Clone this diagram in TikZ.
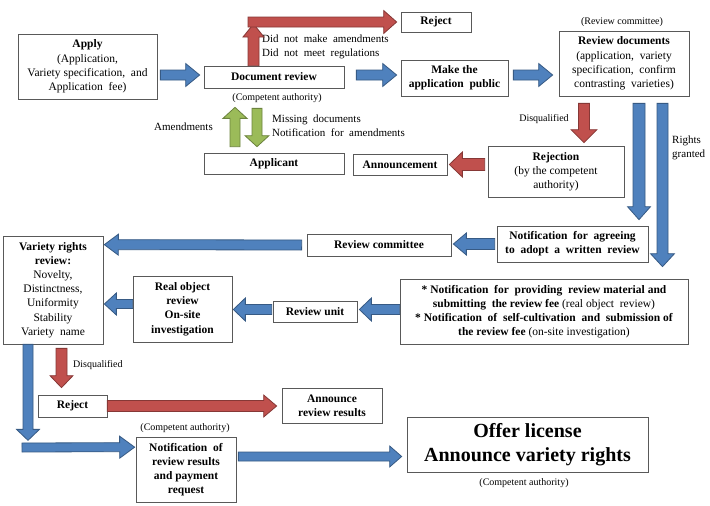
\documentclass[tikz,border=0pt]{standalone}
\usepackage{fontspec}
\setmainfont{Liberation Serif}
\usetikzlibrary{calc}
\definecolor{ablue}{HTML}{4F81BD}
\definecolor{ared}{HTML}{C0504D}
\definecolor{agreen}{HTML}{9BBB59}
% block arrow: #1 start, #2 tip, #3 colour, #4 shaft half width, #5 head half width, #6 head length
\newcommand\barrow[6]{%
  \path #1 coordinate (ba1) #2 coordinate (ba2);
  \path ($(ba2)!#6!(ba1)$) coordinate (ba3);
  \filldraw[fill=#3, draw=#3!70!black, line width=0.8pt, line join=miter]
    ($(ba1)!#4!90:(ba2)$) -- ($(ba3)!#4!90:(ba2)$) -- ($(ba3)!#5!90:(ba2)$) -- (ba2)
    -- ($(ba3)!#5!-90:(ba2)$) -- ($(ba3)!#4!-90:(ba2)$) -- ($(ba1)!#4!-90:(ba2)$) -- cycle;
}
\tikzset{
  box/.style={draw=black!65, line width=0.7pt, fill=white, align=center, inner sep=1pt,
    font=\fontsize{11.5}{14.2}\selectfont},
  lbl/.style={font=\fontsize{11}{14.2}\selectfont, inner sep=0pt, align=left},
  small/.style={font=\fontsize{10}{11}\selectfont, inner sep=0pt},
}
\begin{document}
\begin{tikzpicture}[x=1pt, y=-1pt]
\useasboundingbox (0,0) rectangle (710,506);
\fill[white] (0,0) rectangle (710,506);

% boxes
\node[box, minimum width=139pt, minimum height=65pt] (apply) at (87.5,66.5)
  {\textbf{Apply}\\(Application,\\Variety specification,\ \ and\\Application\ \ fee)};
\node[box, minimum width=140pt, minimum height=22pt] (docrev) at (274,77) {\textbf{Document review}};
\node[box, minimum width=70pt, minimum height=20pt] (reject1) at (436,22) {\textbf{Reject}};
\node[box, minimum width=107pt, minimum height=36pt] (public) at (454.5,78)
  {\textbf{Make the}\\\textbf{application\ \ public}};
\node[box, minimum width=130pt, minimum height=65pt] (revdocs) at (624,63.5)
  {\textbf{Review documents}\\(application,\ \ variety\\specification,\ \ confirm\\contrasting\ \ varieties)};
\node[box, minimum width=136pt, minimum height=51pt] (rejection) at (556,171.5)
  {\textbf{Rejection}\\(by the competent\\authority)};
\node[box, minimum width=94pt, minimum height=21pt] (announcement) at (400,164.5) {\textbf{Announcement}};
\node[box, minimum width=140pt, minimum height=21pt] (applicant) at (274,163.5) {\textbf{Applicant}};
\node[box, minimum width=151pt, minimum height=36pt] (notagree) at (572.5,244)
  {\textbf{Notification\ \ for\ \ agreeing}\\\textbf{to\ \ adopt\ \ a\ \ written\ \ review}};
\node[box, minimum width=144pt, minimum height=22pt] (revcomm) at (379,245) {\textbf{Review committee}};
\node[box, minimum width=100pt, minimum height=108pt] (variety) at (53,290)
  {\textbf{Variety rights}\\\textbf{review:}\\Novelty,\\Distinctness,\\Uniformity\\Stability\\Variety\ \ name};
\node[box, minimum width=288pt, minimum height=65pt] (bignote) at (544,311.5)
  {\textbf{* Notification\ \ for\ \ providing\ \ review material and}\\
   \textbf{submitting\ \ the review fee} (real object\ \ review)\\
   \textbf{* Notification\ \ of\ \ self-cultivation\ \ and\ \ submission of}\\
   \textbf{the review fee} (on-site investigation)};
\node[box, minimum width=84pt, minimum height=21pt] (revunit) at (315,311.5) {\textbf{Review unit}};
\node[box, minimum width=99pt, minimum height=66pt] (realobj) at (182.5,309)
  {\textbf{Real object}\\\textbf{review}\\\textbf{On-site}\\\textbf{investigation}};
\node[box, minimum width=69pt, minimum height=22pt] (reject2) at (72.5,406) {\textbf{Reject}};
\node[box, minimum width=100pt, minimum height=35pt] (announce) at (332,405.5)
  {\textbf{Announce}\\\textbf{review results}};
\node[box, minimum width=100pt, minimum height=65pt] (notres) at (186,469.5)
  {\textbf{Notification\ \ of}\\\textbf{review results}\\\textbf{and payment}\\\textbf{request}};
\node[box, minimum width=241pt, minimum height=55pt, font=\fontsize{20}{24}\selectfont\bfseries] (offer) at (527.5,444.5)
  {Offer license\\Announce variety rights};

% labels
\node[small] (ca1) at (277,98) {(Competent authority)};
\node[small] (rc) at (622,22) {(Review committee)};
\node[small] (ca2) at (185,428) {(Competent authority)};
\node[small] (ca3) at (524,483) {(Competent authority)};
\node[lbl, anchor=west] (dnm) at (262,47) {Did\ \ not\ \ make\ \ amendments\\Did\ \ not\ \ meet\ \ regulations};
\node[lbl, anchor=east] (amend) at (213,127) {Amendments};
\node[lbl, anchor=west] (miss) at (272,125.5) {Missing\ \ documents\\Notification\ \ for\ \ amendments};
\node[small] (dq1) at (544,119) {Disqualified};
\node[small, anchor=west] (dq2) at (73,365) {Disqualified};
\node[lbl, anchor=west] (rg) at (672,148) {Rights\\granted};

% connectors
\coordinate (redbar) at (248,22);
\coordinate (corner) at (22,447.5);
\barrow{($(apply.east)+(3,8.5)$)}{($(docrev.west)+(-4,-2)$)}{ablue}{5pt}{11.5pt}{14pt}
\barrow{($(docrev.east)+(12,-2)$)}{($(public.west)+(-4,-3)$)}{ablue}{5pt}{11.5pt}{14pt}
\barrow{($(public.east)+(5,-3)$)}{($(revdocs.west)+(-6,11.5)$)}{ablue}{5pt}{11.5pt}{14pt}
\barrow{($(docrev.north)+(-20.5,0)$)}{($(redbar)+(5.5,2)$)}{ared}{5.5pt}{10.5pt}{13pt}
\barrow{(redbar)}{($(reject1.west)+(-4,0)$)}{ared}{5pt}{11.5pt}{13pt}
\barrow{($(applicant.north)+(-39,-6)$)}{($(docrev.south)+(-39,19)$)}{agreen}{5pt}{12pt}{11pt}
\barrow{($(docrev.south)+(-17,20)$)}{($(applicant.north)+(-17,-6)$)}{agreen}{5pt}{12pt}{11pt}
\barrow{($(revdocs.south)+(-40,7)$)}{($(rejection.north)+(28,-3)$)}{ared}{5.5pt}{13pt}{13pt}
\barrow{($(rejection.west)+(-3,-7)$)}{($(announcement.east)+(2,0)$)}{ared}{6pt}{12.5pt}{13pt}
\barrow{($(revdocs.south)+(15,7)$)}{($(notagree.north)+(66.5,-6)$)}{ablue}{6pt}{11.5pt}{13pt}
\barrow{($(revdocs.south)+(38.5,7)$)}{($(bignote.north)+(118.5,-12)$)}{ablue}{5.5pt}{12pt}{13pt}
\barrow{($(notagree.west)+(-2,0)$)}{($(revcomm.east)+(2,-1)$)}{ablue}{5.5pt}{11pt}{13pt}
\barrow{($(revcomm.west)+(-5,0)$)}{($(variety.north east)+(1,9)$)}{ablue}{5pt}{10.5pt}{14pt}
\barrow{($(bignote.west)+(0,-2)$)}{($(revunit.east)+(2,-2)$)}{ablue}{5pt}{11.5pt}{12pt}
\barrow{($(revunit.west)+(-1,-2)$)}{($(realobj.east)+(1,0.5)$)}{ablue}{5pt}{11.5pt}{12pt}
\barrow{($(realobj.west)+(0,-5)$)}{($(variety.east)+(1,14)$)}{ablue}{4.5pt}{11pt}{12pt}
\barrow{($(variety.south)+(8.5,4)$)}{($(reject2.north)+(-11,-7)$)}{ared}{5.5pt}{11.5pt}{12pt}
\barrow{(reject2.east)}{($(announce.west)+(-5,0.5)$)}{ared}{5.5pt}{11pt}{13pt}
\barrow{($(variety.south)+(-25,0)$)}{($(variety.south)+(-25,96)$)}{ablue}{5pt}{11.5pt}{11pt}
\barrow{(corner)}{($(notres.north west)+(-1,10.5)$)}{ablue}{4.5pt}{11pt}{15pt}
\barrow{($(notres.east)+(2,-13)$)}{($(offer.west)+(-5,12)$)}{ablue}{4.5pt}{10.5pt}{12pt}
\end{tikzpicture}
\end{document}
